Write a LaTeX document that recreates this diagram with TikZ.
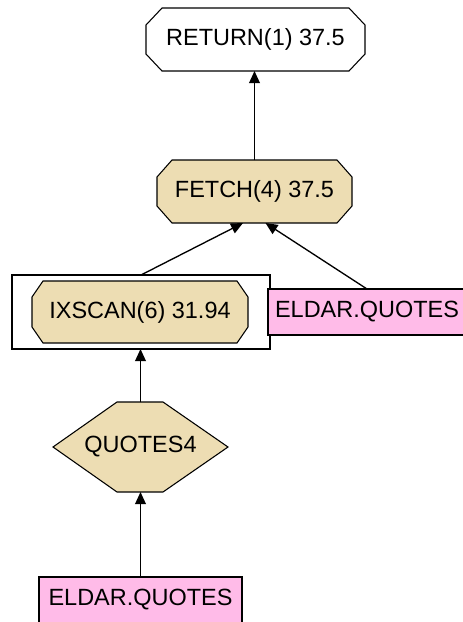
\documentclass[tikz,border=0pt]{standalone}
\usepackage{fontspec}
\setmainfont{Liberation Sans}
\usetikzlibrary{arrows.meta,calc,backgrounds}
\definecolor{optan}{HTML}{EDDDB3}
\definecolor{tabpink}{HTML}{FFBBE8}

% octagon with chamfers (#2 across, #3 down) filling the frame of node #1
\newcommand\chamferoct[4]{%
  \filldraw[#4] ($(#1.north west)+(#2,0)$) -- ($(#1.north east)+(-#2,0)$)
    -- ($(#1.north east)+(0,#3)$) -- ($(#1.south east)+(0,-#3)$)
    -- ($(#1.south east)+(-#2,0)$) -- ($(#1.south west)+(#2,0)$)
    -- ($(#1.south west)+(0,-#3)$) -- ($(#1.north west)+(0,#3)$) -- cycle;}

\begin{document}
\begin{tikzpicture}[x=0.75pt,y=-0.75pt,
  sz/.style 2 args={minimum width={#1*0.75pt}, minimum height={#2*0.75pt}},
  frame/.style={rectangle, inner sep=0pt, outer sep=0pt,
                font=\fontsize{17.6}{20}\selectfont},
  tabbox/.style={frame, draw=black, line width=0.8pt, fill=tabpink},
  opline/.style={draw=black, line width=0.8pt, fill=optan},
  retline/.style={draw=black, line width=0.8pt, fill=white},
  conn/.style={draw=black, line width=1pt,
               -{Triangle[length=9pt,width=8pt]}}]
\useasboundingbox (0,0) rectangle (462,622);

% operator and table nodes
\node[frame, sz={219}{63}] (ret)   at (255.5,39.5) {RETURN(1) 37.5};
\node[frame, sz={195}{63}] (fetch) at (254.5,191.5) {FETCH(4) 37.5};
\node[frame, sz={258}{74}, draw=black, line width=0.8pt] (grp) at (141,312) {};
\node[frame, sz={216}{62}] (ixscan) at (140,312) {IXSCAN(6) 31.94};
\node[tabbox, sz={198}{46}] (tabR) at (367,312) {ELDAR.QUOTES};
\node[frame, sz={175}{90}] (hex) at (140.5,447) {QUOTES4};
\node[tabbox, sz={203}{46}] (tabB) at (140.5,600) {ELDAR.QUOTES};

% node outlines behind the labels
\begin{scope}[on background layer]
  \chamferoct{ret}{16}{17}{retline}
  \chamferoct{fetch}{15}{17}{opline}
  \chamferoct{ixscan}{11}{16}{opline}
  \filldraw[opline] (hex.west) -- ($(hex.north west)+(64,0)$)
    -- ($(hex.north east)+(-65,0)$) -- (hex.east)
    -- ($(hex.south east)+(-65,0)$) -- ($(hex.south west)+(64,0)$) -- cycle;
\end{scope}

% data flow
\draw[conn] (fetch.north) -- (fetch.north |- ret.south);
\draw[conn] (grp.north) -- ($(fetch.south)+(-11.5,0)$);
\draw[conn] (tabR.north) -- ($(fetch.south)+(11,0)$);
\draw[conn] (hex.north) -- (hex.north |- grp.south);
\draw[conn] (tabB.north) -- (hex.south);
\end{tikzpicture}
\end{document}
